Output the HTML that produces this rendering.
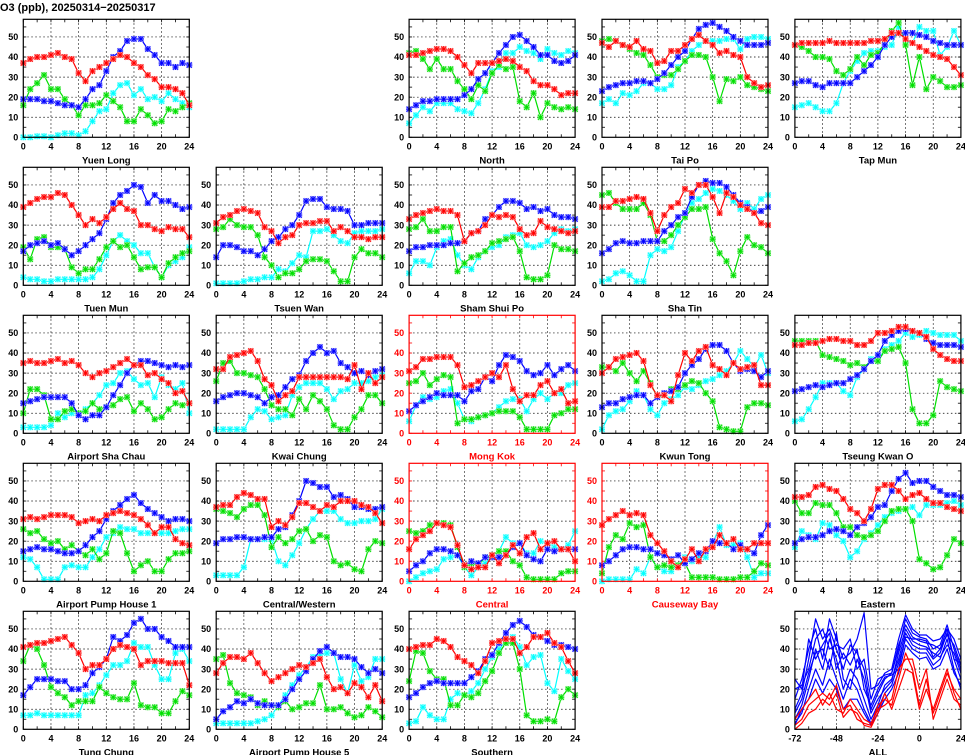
<!DOCTYPE html>
<html><head><meta charset="utf-8"><title>O3 (ppb)</title>
<style>
html,body{margin:0;padding:0;background:#fff;}
svg{display:block;font-family:"Liberation Sans",sans-serif;}
</style></head>
<body>
<svg id="chart" width="965" height="755" viewBox="0 0 965 755" xmlns="http://www.w3.org/2000/svg">
<text x="0" y="11" font-size="11" font-weight="bold" fill="#000">O3 (ppb), 20250314−20250317</text>
</svg>
<script>
const hours = [0,1,2,3,4,5,6,7,8,9,10,11,12,13,14,15,16,17,18,19,20,21,22,23,24];
const xTicks = [0,4,8,12,16,20,24];
const yTicks = [0,10,20,30,40,50];
const allHours = [-72,-68,-64,-60,-56,-52,-48,-44,-40,-36,-32,-28,-24,-20,-16,-12,-8,-4,0,4,8,12,16,20,24];
const allXTicks = [-72,-48,-24,0,24];

const yuenLongRed=[37,39,40,40,41,42,40,39,32,28,33,35,37,39,41,40,37,35,31,29,25,25,24,22,16];
const yuenLongBlue=[19,19,19,18,18,17,16,16,15,19,24,26,33,40,43,48,49,49,44,41,37,37,35,37,36];
const yuenLongGreen=[16,24,27,31,24,24,19,16,11,16,16,17,21,18,15,8,8,14,11,7,8,14,13,15,17];
const yuenLongCyan=[0,0,0.5,0.5,0,1,2,2,1,3,8,13,14,22,26,27,21,24,19,20,18,22,19,17,15];

const northRed=[41,41,42,43,44,44,43,40,36,32,37,37,37,38,39,38,35,33,28,26,26,24,21,22,22];
const northBlue=[14,16,18,18,19,19,19,19,21,24,29,32,37,42,46,50,51,48,45,41,41,38,37,38,41];
const northGreen=[42,43,39,34,39,34,34,28,24,19,26,23,32,36,34,35,18,15,22,10,17,15,14,15,14];
const northCyan=[7,11,15,13,17,17,17,14,13,12,17,24,33,35,42,42,45,43,42,39,44,42,41,43,42];

const taiPoRed=[47,45,48,46,45,48,44,43,37,38,43,43,46,49,51,48,46,42,43,41,40,30,27,25,26];
const taiPoBlue=[23,25,26,27,27,28,28,27,29,32,36,40,43,49,54,56,57,55,53,50,48,46,46,46,47];
const taiPoGreen=[48,49,48,46,44,42,41,36,30,31,31,34,38,41,41,40,30,18,29,28,30,26,25,24,23];
const taiPoCyan=[17,19,17,22,21,23,27,27,24,24,26,35,38,43,46,48,48,48,49,49,44,49,50,50,49];

const tapMunRed=[46,47,47,47,47,48,47,47,47,47,47,48,48,49,52,52,49,47,45,43,41,40,39,35,31];
const tapMunBlue=[27,28,28,26,25,27,27,27,27,30,33,36,40,46,50,52,52,52,51,50,48,47,46,46,46];
const tapMunGreen=[46,45,43,40,40,39,33,31,34,40,36,41,42,47,53,57,46,26,40,24,30,28,25,25,26];
const tapMunCyan=[15,16,17,15,13,13,17,27,33,38,42,43,43,45,46,55,48,47,55,53,53,41,45,53,46];

const tuenMunRed=[39,41,43,44,44,46,45,40,35,30,33,31,34,38,41,38,37,30,30,28,27,29,28,28,24];
const tuenMunBlue=[17,20,21,22,20,21,18,15,17,20,23,26,33,41,45,47,50,49,41,45,42,42,40,38,39];
const tuenMunGreen=[19,13,23,24,19,19,18,9,6,8,8,13,19,22,19,20,14,8,9,9,4,11,14,16,17];
const tuenMunCyan=[4,3,3,2,2,3,3,3,3,3,4,8,15,22,25,22,20,16,16,9,4,10,12,14,19];

const tsuenWanRed=[31,34,35,37,38,37,36,29,27,21,24,25,30,31,31,32,32,27,29,27,24,24,23,24,24];
const tsuenWanBlue=[14,20,20,19,17,17,15,18,22,24,28,30,35,42,43,43,39,38,38,37,30,30,31,31,31];
const tsuenWanGreen=[28,29,33,30,29,29,25,14,10,4,6,6,8,12,13,13,12,7,2,2,14,18,16,16,14];
const tsuenWanCyan=[1,1,1,1,2,3,3,4,4,8,7,11,15,14,27,27,28,25,22,21,26,27,27,27,28];

const shamShuiPoRed=[33,35,36,37,38,37,37,35,22,26,27,30,35,34,35,34,28,25,26,32,29,28,27,26,27];
const shamShuiPoBlue=[17,19,19,20,20,20,21,21,22,26,27,33,35,39,42,42,41,38,39,37,38,35,34,34,33];
const shamShuiPoGreen=[28,29,33,27,27,29,29,7,11,14,15,17,21,22,23,24,17,4,3,3,5,20,18,18,17];
const shamShuiPoCyan=[6,12,12,10,19,22,23,15,10,8,14,17,19,20,24,25,26,20,19,20,22,26,28,27,28];

const shaTinRed=[39,39,42,42,43,44,43,36,27,35,39,41,48,46,50,50,44,36,46,44,40,38,36,31,30];
const shaTinBlue=[16,18,21,22,21,21,22,22,22,27,30,34,36,44,50,52,51,51,49,45,41,39,36,37,39];
const shaTinGreen=[45,46,41,38,38,38,41,35,22,22,25,30,34,38,38,39,23,16,12,5,17,24,20,19,16];
const shaTinCyan=[2,3,6,7,5,2,2,15,18,17,19,27,35,41,43,46,48,47,45,42,38,41,38,43,45];

const shaChauRed=[35,36,35,35,36,37,35,36,34,30,28,30,31,33,35,37,34,34,29,30,27,25,20,21,15];
const shaChauBlue=[15,16,17,18,18,18,18,15,9,7,9,9,13,19,24,30,34,36,36,35,34,33,34,33,34];
const shaChauGreen=[10,22,22,19,7,7,11,12,10,11,15,12,13,14,17,18,11,15,12,7,8,12,15,14,15];
const shaChauCyan=[3,3,3,3,4,10,8,10,10,12,15,19,24,25,30,31,27,24,25,18,28,24,22,25,10];

const kwaiChungRed=[32,32,38,39,40,41,36,27,24,16,19,21,28,28,28,28,28,28,28,27,34,22,30,25,28];
const kwaiChungBlue=[16,18,19,20,20,19,18,15,18,19,23,27,29,36,40,43,40,41,35,33,30,31,29,31,32];
const kwaiChungGreen=[26,35,36,30,30,29,28,22,14,12,12,9,17,12,19,16,12,4,2,2,8,12,19,19,15];
const kwaiChungCyan=[2,2,2,2,2,8,12,11,7,8,9,19,23,25,25,25,22,17,21,22,25,25,26,28,29];

const mongKokRed=[31,33,37,37,38,38,38,34,23,24,26,28,30,28,34,22,16,19,19,24,26,20,22,15,16];
const mongKokBlue=[11,14,16,18,20,19,19,19,16,21,22,28,26,34,39,38,36,31,29,30,34,29,32,34,31];
const mongKokGreen=[25,26,30,24,27,29,28,5,7,7,8,9,10,11,11,11,8,2,2,2,2,9,10,12,12];
const mongKokCyan=[6,14,18,17,18,21,22,15,7,6,8,9,10,13,16,17,17,11,17,20,17,20,20,24,25];

const kwunTongRed=[30,33,37,38,39,40,36,24,19,19,16,29,40,36,41,43,34,32,29,35,32,33,34,24,24];
const kwunTongBlue=[13,15,15,17,18,19,19,15,18,20,21,23,30,34,37,42,44,44,41,35,31,32,31,28,31];
const kwunTongGreen=[33,33,31,35,30,26,31,25,18,19,22,22,24,26,25,20,16,3,2,1,1,13,15,15,14];
const kwunTongCyan=[2,9,11,12,16,21,19,12,9,15,17,19,23,22,24,26,27,29,31,35,41,37,33,39,30];

const tkoRed=[44,44,45,45,46,47,47,46,46,44,44,46,50,50,51,53,53,51,50,48,42,39,37,36,36];
const tkoBlue=[21,22,23,24,23,24,25,25,27,29,32,36,39,46,49,51,52,51,50,47,45,44,44,44,43];
const tkoGreen=[46,46,46,46,39,38,37,36,34,35,33,36,36,41,42,43,35,12,5,5,9,26,23,22,21];
const tkoCyan=[6,7,12,18,25,25,25,21,19,28,32,37,36,42,44,46,50,48,49,51,50,49,49,49,46];

const aph1Red=[31,32,31,32,33,33,33,32,29,30,31,30,33,34,35,34,33,31,28,24,27,27,21,19,18];
const aph1Blue=[15,16,17,16,16,15,14,14,15,18,22,25,31,35,38,41,43,39,36,34,32,30,31,31,30];
const aph1Green=[26,24,25,21,19,20,16,18,15,13,16,11,14,25,24,14,5,8,10,5,5,11,14,14,15];
const aph1Cyan=[12,11,7,1,1,1,7,8,7,7,12,16,22,24,27,26,26,24,24,24,24,24,25,26,26];

const centralWesternRed=[37,38,38,42,44,43,41,41,27,30,28,32,39,39,37,35,38,37,40,40,40,38,37,34,29];
const centralWesternBlue=[19,21,21,22,22,21,21,22,22,26,27,33,40,50,49,47,47,42,43,41,37,37,36,36,37];
const centralWesternGreen=[36,35,34,32,36,38,38,33,17,22,19,21,25,26,20,23,22,10,8,9,6,5,16,20,19];
const centralWesternCyan=[3,3,3,3,7,21,21,21,21,10,8,13,19,26,31,35,35,35,31,29,29,30,30,31,36];

const centralRed=[16,21,23,25,29,28,27,18,8,6,7,7,13,9,13,18,14,22,24,16,19,20,16,16,10];
const centralBlue=[5,8,10,14,16,16,15,13,8,10,9,12,12,12,13,17,19,13,11,10,16,15,16,16,16];
const centralGreen=[25,24,25,28,29,29,28,17,7,9,8,12,13,15,15,10,8,2,1,1,1,1,4,5,5];
const centralCyan=[0,2,4,5,6,11,12,13,7,3,7,9,13,15,22,19,19,14,14,20,19,17,16,18,25];

const causewayBayRed=[28,31,33,35,33,34,33,23,19,15,10,7,11,16,10,16,17,23,19,21,16,16,19,19,19];
const causewayBayBlue=[8,10,13,16,17,17,16,16,14,13,11,13,9,11,14,15,20,19,19,16,18,16,14,23,28];
const causewayBayGreen=[4,17,23,21,29,27,28,12,7,8,7,8,9,2,2,2,2,1,1,1,2,2,5,9,8];
const causewayBayCyan=[0,1,1,1,1,6,4,12,7,5,5,8,12,10,12,12,19,27,18,18,19,12,2,4,4];

const easternRed=[42,42,43,47,48,46,45,41,36,34,30,36,46,48,48,45,41,43,44,41,39,39,37,36,35];
const easternBlue=[19,21,22,22,23,25,26,25,23,27,29,32,37,38,45,51,54,49,50,50,47,45,43,43,42];
const easternGreen=[40,34,34,39,38,38,34,27,27,23,22,23,25,30,35,36,36,30,11,9,6,7,13,21,19];
const easternCyan=[17,25,23,21,29,28,23,20,12,15,21,24,28,32,34,35,36,37,33,38,38,38,39,40,38];

const tungChungRed=[41,42,43,43,44,45,46,42,38,30,32,32,35,40,42,41,40,32,34,34,34,33,33,33,22];
const tungChungBlue=[17,21,25,25,25,24,24,20,20,22,28,31,35,46,44,47,53,55,50,50,46,44,41,41,41];
const tungChungGreen=[34,42,40,32,21,18,16,12,14,14,14,21,18,16,15,15,23,12,11,11,8,8,14,19,17];
const tungChungCyan=[7,7,8,7,7,7,7,7,7,17,18,22,27,32,32,34,43,41,41,32,25,25,38,40,34];

const aph5Red=[28,33,36,36,35,38,33,28,24,26,28,30,32,31,33,35,26,20,21,18,23,21,16,22,14];
const aph5Blue=[5,9,11,14,13,15,13,12,12,12,15,20,25,29,35,39,41,38,36,36,35,31,28,30,28];
const aph5Green=[35,37,23,18,17,16,12,14,12,11,14,10,11,13,13,22,10,10,11,8,6,7,11,9,6];
const aph5Cyan=[3,3,3,3,3,3,4,5,7,12,17,22,27,31,36,37,38,38,25,18,32,24,26,35,35];

const southernRed=[40,41,42,42,45,44,41,36,34,32,28,34,43,44,45,45,38,41,46,46,48,43,41,34,28];
const southernBlue=[16,18,21,23,24,23,23,23,23,26,29,35,37,43,48,52,54,51,47,46,44,42,42,41,40];
const southernGreen=[24,39,38,29,25,25,12,12,17,16,18,24,29,38,43,43,30,7,4,4,5,4,16,20,17];
const southernCyan=[3,4,11,7,5,5,15,18,17,19,23,30,36,40,44,46,41,32,36,37,23,19,35,29,25];

const allBlue1=[5,12,25,40,30,45,35,20,30,25,15,5,12,22,25,35,48,42,40,40,35,38,48,35,25];
const allBlue2=[10,18,35,55,45,50,40,30,42,38,30,10,18,25,28,40,55,48,46,45,40,42,52,40,30];
const allBlue3=[15,25,40,50,35,55,45,35,38,45,58,20,22,28,30,45,57,50,47,47,44,45,50,45,35];
const allBlue4=[3,8,20,30,22,35,25,15,25,20,10,3,10,18,22,33,45,40,38,38,32,35,45,30,20];
const allBlue5=[20,22,30,45,50,40,42,40,45,30,35,15,25,27,28,42,52,46,44,43,42,40,47,42,32];
const allBlue6=[8,15,28,38,40,30,48,25,20,35,25,8,15,20,24,38,50,44,42,41,38,36,42,38,28];
const allBlue7=[25,20,45,35,42,48,30,38,32,40,20,12,20,26,27,30,46,45,45,44,36,40,50,35,33];
const allBlue8=[2,10,15,25,18,25,20,10,15,15,8,2,8,15,20,28,42,38,35,36,30,32,40,28,22];
const allRed1=[2,5,12,15,18,15,22,10,12,5,3,2,12,15,12,25,38,30,12,25,8,18,28,20,15];
const allRed2=[5,10,15,20,12,18,10,8,15,10,5,3,10,12,15,30,35,35,20,30,5,15,25,15,12];
const allRed3=[0,3,8,10,15,12,18,6,10,8,2,1,8,18,10,20,30,28,10,20,10,20,30,18,10];

const stations = [
 {name:"Yuen Long",key:"yuen-long",col:0,row:0,road:false,r:yuenLongRed,b:yuenLongBlue,g:yuenLongGreen,c:yuenLongCyan},
 {name:"North",key:"north",col:2,row:0,road:false,r:northRed,b:northBlue,g:northGreen,c:northCyan},
 {name:"Tai Po",key:"tai-po",col:3,row:0,road:false,r:taiPoRed,b:taiPoBlue,g:taiPoGreen,c:taiPoCyan},
 {name:"Tap Mun",key:"tap-mun",col:4,row:0,road:false,r:tapMunRed,b:tapMunBlue,g:tapMunGreen,c:tapMunCyan},
 {name:"Tuen Mun",key:"tuen-mun",col:0,row:1,road:false,r:tuenMunRed,b:tuenMunBlue,g:tuenMunGreen,c:tuenMunCyan},
 {name:"Tsuen Wan",key:"tsuen-wan",col:1,row:1,road:false,r:tsuenWanRed,b:tsuenWanBlue,g:tsuenWanGreen,c:tsuenWanCyan},
 {name:"Sham Shui Po",key:"sham-shui-po",col:2,row:1,road:false,r:shamShuiPoRed,b:shamShuiPoBlue,g:shamShuiPoGreen,c:shamShuiPoCyan},
 {name:"Sha Tin",key:"sha-tin",col:3,row:1,road:false,r:shaTinRed,b:shaTinBlue,g:shaTinGreen,c:shaTinCyan},
 {name:"Airport Sha Chau",key:"airport-sha-chau",col:0,row:2,road:false,r:shaChauRed,b:shaChauBlue,g:shaChauGreen,c:shaChauCyan},
 {name:"Kwai Chung",key:"kwai-chung",col:1,row:2,road:false,r:kwaiChungRed,b:kwaiChungBlue,g:kwaiChungGreen,c:kwaiChungCyan},
 {name:"Mong Kok",key:"mong-kok",col:2,row:2,road:true,r:mongKokRed,b:mongKokBlue,g:mongKokGreen,c:mongKokCyan},
 {name:"Kwun Tong",key:"kwun-tong",col:3,row:2,road:false,r:kwunTongRed,b:kwunTongBlue,g:kwunTongGreen,c:kwunTongCyan},
 {name:"Tseung Kwan O",key:"tseung-kwan-o",col:4,row:2,road:false,r:tkoRed,b:tkoBlue,g:tkoGreen,c:tkoCyan},
 {name:"Airport Pump House 1",key:"airport-pump-house-1",col:0,row:3,road:false,r:aph1Red,b:aph1Blue,g:aph1Green,c:aph1Cyan},
 {name:"Central/Western",key:"central-western",col:1,row:3,road:false,r:centralWesternRed,b:centralWesternBlue,g:centralWesternGreen,c:centralWesternCyan},
 {name:"Central",key:"central",col:2,row:3,road:true,r:centralRed,b:centralBlue,g:centralGreen,c:centralCyan},
 {name:"Causeway Bay",key:"causeway-bay",col:3,row:3,road:true,r:causewayBayRed,b:causewayBayBlue,g:causewayBayGreen,c:causewayBayCyan},
 {name:"Eastern",key:"eastern",col:4,row:3,road:false,r:easternRed,b:easternBlue,g:easternGreen,c:easternCyan},
 {name:"Tung Chung",key:"tung-chung",col:0,row:4,road:false,r:tungChungRed,b:tungChungBlue,g:tungChungGreen,c:tungChungCyan},
 {name:"Airport Pump House 5",key:"airport-pump-house-5",col:1,row:4,road:false,r:aph5Red,b:aph5Blue,g:aph5Green,c:aph5Cyan},
 {name:"Southern",key:"southern",col:2,row:4,road:false,r:southernRed,b:southernBlue,g:southernGreen,c:southernCyan}
];
const allBlueSeries=[allBlue1,allBlue2,allBlue3,allBlue4,allBlue5,allBlue6,allBlue7,allBlue8];
const allRedSeries=[allRed1,allRed2,allRed3];

const NS="http://www.w3.org/2000/svg";
const svg=document.getElementById('chart');
const PW=166, PH=118, YMAX=58.8;
function panelLeft(col){return 23.3+col*192.9;}
function panelTop(row){return 19.3+row*148;}
function mk(tag,attrs,parent){const e=document.createElementNS(NS,tag);for(const k in attrs)e.setAttribute(k,attrs[k]);parent.appendChild(e);return e;}

function drawFrame(g,L,T,xmin,xmax,xt,gridX,fc,key){
  const sx=v=>L+(v-xmin)/(xmax-xmin)*PW;
  const sy=v=>T+PH-v/YMAX*PH;
  // grid
  for(const v of gridX){
    const l=mk('line',{x1:sx(v),x2:sx(v),y1:T,y2:T+PH,stroke:'#000','stroke-width':0.7,'stroke-dasharray':'1.5,2.5'},g);
    
    
  }
  for(const v of yTicks){ if(v===0) continue;
    const l=mk('line',{x1:L,x2:L+PW,y1:sy(v),y2:sy(v),stroke:'#000','stroke-width':0.7,'stroke-dasharray':'1.5,2.5'},g);
    
    
  }
  // ticks
  for(const v of xt){
    const t=mk('text',{x:sx(v),y:T+PH+12,'font-size':9,'font-weight':'bold','text-anchor':'middle',fill:fc},g);
    t.textContent=v;
    
    
  }
  const minorStep=(xmax-xmin)/12;
  for(let v=xmin;v<=xmax+0.01;v+=minorStep){
    mk('line',{x1:sx(v),x2:sx(v),y1:T+PH,y2:T+PH-3,stroke:fc,'stroke-width':0.8},g);
    mk('line',{x1:sx(v),x2:sx(v),y1:T,y2:T+3,stroke:fc,'stroke-width':0.8},g);
  }
  for(let v=0;v<=55;v+=5){
    mk('line',{x1:L,x2:L+3,y1:sy(v),y2:sy(v),stroke:fc,'stroke-width':0.8},g);
    mk('line',{x1:L+PW,x2:L+PW-3,y1:sy(v),y2:sy(v),stroke:fc,'stroke-width':0.8},g);
  }
  for(const v of yTicks){
    const t=mk('text',{x:L-5,y:sy(v)+3.2,'font-size':9,'font-weight':'bold','text-anchor':'end',fill:fc},g);
    t.textContent=v;
    
    
  }
  return {sx,sy};
}

function drawSeries(g,xs,vals,sx,sy,color,halo,name,markers){
  const pts=xs.map((x,i)=>sx(x).toFixed(1)+','+sy(vals[i]).toFixed(1)).join(' ');
  const pl=mk('polyline',{points:pts,fill:'none',stroke:color,'stroke-width':1.2,'stroke-linejoin':'round'},g);
  
  
  if(!markers) return;
  let d='';
  xs.forEach((x,i)=>{const px=sx(x),py=sy(vals[i]);
    d+=`M${px-2.6},${py-2.6}L${px+2.6},${py+2.6}M${px-2.6},${py+2.6}L${px+2.6},${py-2.6}M${px-3},${py}L${px+3},${py}M${px},${py-3}L${px},${py+3}`;});
  const h=mk('path',{d:d,stroke:halo,'stroke-width':2.2,fill:'none'},g);
  
  
  const m=mk('path',{d:d,stroke:color,'stroke-width':0.9,fill:'none'},g);
  
  
}

for(const st of stations){
  const L=panelLeft(st.col),T=panelTop(st.row);
  const fc=st.road?'#ff0000':'#000';
  const g=mk('g',{},svg);
  
  
  const {sx,sy}=drawFrame(g,L,T,0,24,xTicks,[4,8,12,16,20],fc,st.key);
  drawSeries(g,hours,st.c,sx,sy,'#00ffff','#a8ffff',st.key+'-cyan',true);
  drawSeries(g,hours,st.g,sx,sy,'#00e000','#a0f0a0',st.key+'-green',true);
  drawSeries(g,hours,st.b,sx,sy,'#0000ff','#a0a0ff',st.key+'-blue',true);
  drawSeries(g,hours,st.r,sx,sy,'#ff0000','#ffa0a0',st.key+'-red',true);
  const fr=mk('rect',{x:L,y:T,width:PW,height:PH,fill:'none',stroke:fc,'stroke-width':1.2},g);
  
  
  const t=mk('text',{x:L+PW/2,y:T+PH+26,'font-size':9.5,'font-weight':'bold','text-anchor':'middle',fill:fc},g);
  t.textContent=st.name;
  
  
}

// ALL panel
(function(){
  const L=panelLeft(4),T=panelTop(4);
  const g=mk('g',{},svg);
  
  
  const {sx,sy}=drawFrame(g,L,T,-72,24,allXTicks,[-48,-24,0],'#000','all');
  allBlueSeries.forEach((s,i)=>drawSeries(g,allHours,s,sx,sy,'#0000ff','',`all-blue-${i+1}`,false));
  allRedSeries.forEach((s,i)=>drawSeries(g,allHours,s,sx,sy,'#ff0000','',`all-red-${i+1}`,false));
  const fr=mk('rect',{x:L,y:T,width:PW,height:PH,fill:'none',stroke:'#000','stroke-width':1.2},g);
  
  
  const t=mk('text',{x:L+PW/2,y:T+PH+26,'font-size':9.5,'font-weight':'bold','text-anchor':'middle',fill:'#000'},g);
  t.textContent='ALL';
  
  
})();
</script>
</body></html>
